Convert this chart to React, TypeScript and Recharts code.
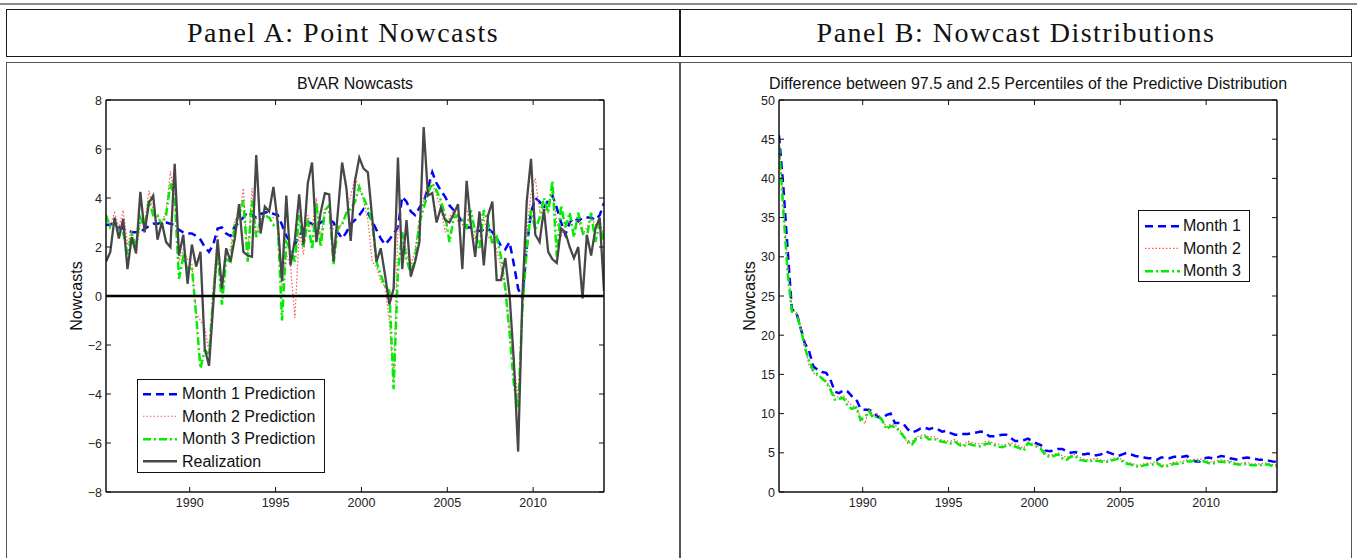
import { LineChart, Line, XAxis, YAxis, ReferenceLine, Legend } from 'recharts';

// quarterly sample, 1985Q1 .. 2014Q1
const quarters: string[] = [];
for (let y = 1985; y <= 2014; y++) {
  for (let q = 1; q <= 4; q++) {
    if (y === 2014 && q > 1) break;
    quarters.push(`${y}Q${q}`);
  }
}

const yearTicks = [1990, 1995, 2000, 2005, 2010];
const nowcastTicks = [-8, -6, -4, -2, 0, 2, 4, 6, 8];
const spreadTicks = [0, 5, 10, 15, 20, 25, 30, 35, 40, 45, 50];

// Panel A: point nowcasts
const realization = [
  1.4, 1.8, 3.2, 2.35, 3.15, 1.1, 2.4, 1.75, 4.25, 2.6,
  3.8, 4.1, 2.3, 3.0, 2.2, 2.0, 5.4, 1.65, 2.5, 0.5,
  2.1, 1.2, 1.8, -2.15, -2.85, -0.3, 2.3, 0.3, 1.95, 1.4,
  2.35, 3.75, 1.8, 1.65, 1.6, 5.75, 2.55, 3.65, 3.45, 4.45,
  3.0, 0.6, 4.1, 1.25, 2.3, 4.15, 2.1, 4.6, 5.45, 2.2,
  3.4, 4.2, 4.15, 1.4, 3.4, 5.45, 4.4, 2.25, 4.7, 5.65,
  5.2, 5.05, 3.2, 1.4, 1.95, 0.85, -0.35, 0.3, 5.65, 1.1,
  3.1, 0.8, 1.4, 2.2, 6.9, 4.1, 4.2, 3.0, 3.6, 3.1,
  3.0, 3.35, 3.75, 1.1, 4.7, 2.9, 1.6, 3.45, 1.25, 3.3,
  3.85, 0.65, 0.65, 1.55, 0.05, -2.65, -6.35, 0.0, 3.85, 5.6,
  2.5, 2.2, 3.55, 1.8, 1.5, 1.35, 2.75, 2.6, 2.0, 1.55,
  2.0, -0.1, 2.5, 1.65, 2.75, 3.2, 0.2,
];
const month1Point = [
  2.9, 2.92, 2.95, 2.8, 2.75, 2.7, 2.6, 2.6, 2.6, 2.75,
  2.85, 2.95, 2.95, 3.0, 3.0, 2.95, 2.9, 2.7, 2.6, 2.55,
  2.55, 2.45, 2.3, 2.0, 1.8, 2.1, 2.75, 2.8, 2.55, 2.45,
  2.85, 3.0, 3.2, 3.45, 3.3, 3.2, 3.35, 3.4, 3.45, 3.35,
  3.3, 2.9, 2.45, 2.2, 2.1, 2.45, 2.75, 3.0, 2.95, 2.85,
  3.0, 3.1, 3.1, 3.0, 2.6, 2.35, 2.6, 2.95, 3.1, 3.3,
  3.55, 3.4, 3.05, 2.7, 2.35, 2.1, 2.3, 2.55, 2.8, 4.05,
  3.85, 3.45, 3.3, 3.6, 3.85, 4.4, 5.05, 4.6, 4.3, 4.05,
  3.7, 3.5, 3.3, 3.0, 2.8, 2.8, 2.7, 2.65, 2.7, 2.75,
  2.6, 2.35, 2.05, 1.9, 2.2, 1.3, 0.3, -0.1, 2.0, 3.4,
  4.0, 3.85, 3.6, 3.9, 4.1, 3.6, 3.0, 2.5, 3.0, 3.2,
  3.05, 3.2, 3.2, 3.2, 3.1, 3.3, 3.8,
];
const month2Point = [
  3.2, 2.9, 3.4, 2.8, 3.5, 2.1, 2.7, 1.7, 3.0, 2.9,
  4.3, 3.5, 3.2, 3.0, 3.5, 5.1, 4.0, 1.4, 1.9, 1.5,
  1.3, -0.7, -1.0, -1.3, -2.3, 0.5, 2.5, 0.0, 1.8, 1.9,
  3.1, 3.2, 4.4, 1.6, 4.4, 2.5, 3.1, 3.3, 3.2, 3.2,
  3.1, 0.2, 1.7, 1.2, -0.9, 2.6, 1.7, 3.3, 2.8, 4.0,
  2.3, 3.6, 3.4, 2.7, 2.6, 3.0, 3.4, 4.1, 4.8, 4.4,
  3.9, 3.1, 1.4, 1.2, 0.6, 0.4, -1.0, -3.5, 2.8, 2.6,
  1.8, 1.2, 1.9, 3.1, 3.9, 4.7, 4.6, 4.1, 3.6, 2.6,
  3.2, 3.5, 3.0, 2.9, 3.6, 2.9, 2.3, 3.4, 3.2, 2.4,
  2.3, 1.9, 1.2, 0.5, -1.4, -2.8, -4.2, -0.3, 2.6, 4.2,
  4.8, 3.5, 3.6, 3.4, 4.4, 3.0, 2.4, 3.1, 3.0, 2.8,
  3.2, 2.5, 2.8, 3.2, 2.9, 3.1, 2.4,
];
const month3Point = [
  3.3, 2.8, 3.0, 2.7, 2.6, 1.7, 2.5, 2.1, 3.2, 2.8,
  3.9, 3.3, 3.3, 2.9, 3.3, 4.6, 4.0, 0.7, 1.6, 1.1,
  1.2, -0.8, -2.95, -2.2, -2.4, 0.1, 1.8, -0.35, 1.5, 1.4,
  2.9, 3.3, 3.9, 1.4, 3.9, 2.4, 3.1, 3.3, 3.2, 2.9,
  3.0, -1.0, 2.2, 1.9, 1.4, 3.3, 2.0, 3.1, 1.9, 3.8,
  2.0, 3.5, 3.7, 1.3, 2.8, 2.9, 3.4, 3.55, 3.85, 4.45,
  4.0, 3.6, 3.0, 1.4, 0.85, 0.4, 0.2, -3.8, 1.0, 2.6,
  1.5, 0.9, 1.5, 3.0, 3.6, 4.2, 4.6, 4.3, 3.9, 3.3,
  2.2, 3.2, 3.3, 3.1, 2.8, 3.5, 2.6, 1.9, 3.5, 3.0,
  2.1, 2.4, 1.6, 0.3, -1.5, -3.6, -4.6, -0.5, 1.9, 3.5,
  2.7, 3.2, 4.0, 3.4, 4.7, 1.6, 3.7, 2.8, 3.4, 2.4,
  3.4, 2.6, 2.4, 3.4, 2.2, 3.0, 2.2,
];

// Panel B: 97.5 - 2.5 percentile spread
const month1Spread = [
  45.5, 39, 31, 23.3, 23.0, 21.0, 19.0, 18.0, 16.0, 15.6,
  15.3, 15.2, 14.3, 12.8, 12.6, 13.0, 12.8, 12.2, 11.8, 10.6,
  10.5, 10.5, 10.2, 9.6, 9.3, 9.8, 10.0, 8.8, 8.8, 8.7,
  8.0, 7.6, 7.8, 8.1, 8.2, 8.0, 8.2, 8.0, 7.7, 7.8,
  7.5, 7.3, 7.3, 7.4, 7.4, 7.5, 7.6, 7.7, 7.6, 7.1,
  7.1, 7.2, 7.3, 7.3, 6.9, 6.5, 6.5, 6.6, 6.8, 6.5,
  6.2, 6.0, 5.3, 5.2, 5.3, 5.5, 5.5, 5.2, 5.0, 5.1,
  4.9, 4.8, 4.9, 4.7, 4.7, 4.8, 5.2, 5.0, 4.8, 4.6,
  4.8, 5.0, 4.8, 4.6, 4.5, 4.4, 4.3, 4.3, 4.1, 4.4,
  4.4, 4.3, 4.5, 4.5, 4.5, 4.6, 4.2, 3.9, 3.9, 4.3,
  4.4, 4.3, 4.4, 4.6, 4.5, 4.3, 4.2, 4.1, 4.3, 4.4,
  4.3, 4.2, 4.1, 4.1, 4.0, 3.9, 3.85,
];
const month2Spread = [
  44.8, 37, 29, 23.2, 22.9, 21.2, 18.8, 16.2, 15.2, 14.8,
  14.6, 14.2, 13.3, 12.2, 12.1, 12.3, 11.6, 11.0, 10.9, 9.6,
  8.7, 10.6, 9.8, 10.0, 9.3, 8.3, 8.7, 8.6, 8.0, 7.3,
  6.1, 6.5, 7.0, 7.2, 7.3, 7.0, 7.1, 6.8, 6.6, 6.5,
  6.5, 6.7, 6.3, 6.0, 6.5, 6.3, 6.2, 6.1, 6.4, 6.5,
  6.2, 6.1, 6.0, 6.1, 6.3, 6.1, 5.9, 5.6, 6.4, 6.2,
  6.0, 5.7, 5.0, 4.7, 4.8, 5.0, 4.6, 4.4, 4.7, 4.8,
  4.4, 4.2, 4.1, 4.2, 4.3, 4.1, 4.0, 4.1, 4.3, 4.4,
  4.1, 3.8, 3.7, 3.5, 3.4, 3.6, 3.7, 3.7, 3.9, 3.5,
  3.4, 3.6, 3.8, 3.8, 3.9, 4.1, 4.1, 4.2, 4.2, 4.1,
  3.9, 3.8, 4.0, 4.1, 4.0, 4.0, 3.8, 3.7, 3.7, 3.8,
  3.6, 3.6, 3.6, 3.7, 3.7, 3.5, 3.5,
];
const month3Spread = [
  44.2, 36, 28, 23.0, 22.8, 21.0, 18.5, 16.7, 15.5, 15.0,
  14.5, 14.0, 13.0, 11.8, 11.9, 12.0, 11.0, 10.6, 10.8, 9.2,
  9.6, 10.3, 9.4, 9.7, 9.2, 8.0, 8.4, 8.3, 7.8, 7.1,
  6.5, 6.1, 6.8, 6.9, 7.1, 6.7, 6.8, 6.6, 6.4, 6.3,
  6.2, 6.4, 6.0, 5.8, 6.2, 6.0, 5.9, 5.8, 6.1, 6.2,
  6.0, 5.8, 5.7, 5.9, 6.0, 5.8, 5.6, 5.3, 6.2, 6.0,
  5.8, 5.5, 4.7, 4.5, 4.6, 4.8, 4.3, 4.1, 4.5, 4.6,
  4.1, 4.0, 3.9, 4.0, 4.0, 3.9, 3.8, 3.9, 4.1, 4.2,
  3.9, 3.6, 3.5, 3.3, 3.2, 3.4, 3.5, 3.5, 3.7, 3.3,
  3.2, 3.4, 3.6, 3.6, 3.7, 3.9, 3.9, 4.0, 4.0, 3.9,
  3.7, 3.6, 3.8, 3.9, 3.8, 3.8, 3.6, 3.5, 3.5, 3.6,
  3.4, 3.4, 3.4, 3.5, 3.5, 3.3, 3.3,
];

// quarter label -> mid-quarter decimal year
const toYear = (q: string) => Number(q.slice(0, 4)) + (Number(q.slice(5)) - 0.5) / 4;

const pointData = quarters.map((q, i) => ({
  t: toYear(q),
  m1: month1Point[i],
  m2: month2Point[i],
  m3: month3Point[i],
  real: realization[i],
}));
const spreadData = quarters.map((q, i) => ({
  t: toYear(q),
  m1: month1Spread[i],
  m2: month2Spread[i],
  m3: month3Spread[i],
}));

const FONT = '"Liberation Sans", Arial, Helvetica, sans-serif';
const SERIF = '"Liberation Serif", "Times New Roman", serif';
const X_DOMAIN = [1985.125, 2014.125];

type Series = { key: string; name: string; color: string; width: number; dash?: string };

const pointSeries: Series[] = [
  { key: 'm1', name: 'Month 1 Prediction', color: '#0000ff', width: 2.5, dash: '8 5' },
  { key: 'm2', name: 'Month 2 Prediction', color: '#ff5555', width: 1.2, dash: '1.5 2' },
  { key: 'm3', name: 'Month 3 Prediction', color: '#00ee00', width: 2.5, dash: '8 3 2 3' },
  { key: 'real', name: 'Realization', color: '#474747', width: 2.3 },
];
const spreadSeries: Series[] = [
  { key: 'm1', name: 'Month 1', color: '#0000ff', width: 2.5, dash: '8 5' },
  { key: 'm2', name: 'Month 2', color: '#ff5555', width: 1.2, dash: '1.5 2' },
  { key: 'm3', name: 'Month 3', color: '#00ee00', width: 2.5, dash: '8 3 2 3' },
];

const fmt = (v: number) => (v < 0 ? `\u2212${-v}` : `${v}`);

function BottomTick({ x, y, payload }: any) {
  return (
    <g>
      <line x1={x} y1={y} x2={x} y2={y - 5} stroke="#111" />
      <text x={x} y={y + 15} textAnchor="middle" fontSize={12.5} fontFamily={FONT} fill="#222">
        {payload.value}
      </text>
    </g>
  );
}
function TopTick({ x, y }: any) {
  return <line x1={x} y1={y} x2={x} y2={y + 5} stroke="#111" />;
}
function LeftTick({ x, y, payload }: any) {
  return (
    <g>
      <line x1={x} y1={y} x2={x + 5} y2={y} stroke="#111" />
      <text x={x - 4} y={y + 4.5} textAnchor="end" fontSize={12.5} fontFamily={FONT} fill="#222">
        {fmt(payload.value)}
      </text>
    </g>
  );
}
function RightTick({ x, y }: any) {
  return <line x1={x} y1={y} x2={x - 5} y2={y} stroke="#111" />;
}

function legendContent(series: Series[], w: number, h: number, row: number, padTop: number, x0: number, x1: number) {
  return ({ payload }: any) => {
    const items: any[] = payload && payload.length ? payload : series.map((s) => ({ dataKey: s.key }));
    return (
      <div
        style={{
          width: w,
          height: h,
          boxSizing: 'border-box',
          border: '1.2px solid #111',
          background: '#fff',
          paddingTop: padTop,
          fontFamily: FONT,
          fontSize: 16,
          color: '#111',
        }}
      >
        {items.map((it) => {
          const s = series.find((d) => d.key === it.dataKey)!;
          return (
            <div key={s.key} style={{ height: row, display: 'flex', alignItems: 'center', whiteSpace: 'nowrap' }}>
              <svg width={44} height={row} style={{ flex: 'none' }}>
                <line x1={x0} x2={x1} y1={row / 2} y2={row / 2} stroke={s.color} strokeWidth={s.width} strokeDasharray={s.dash} />
              </svg>
              <span>{s.name}</span>
            </div>
          );
        })}
      </div>
    );
  };
}

const axisLine = { stroke: '#111', strokeWidth: 1.5 };

function PointPanel() {
  return (
    <LineChart width={680} height={496} data={pointData} margin={{ top: 33, right: 71, bottom: 36, left: 46 }}>
      <XAxis
        xAxisId="b"
        dataKey="t"
        type="number"
        domain={X_DOMAIN}
        ticks={yearTicks}
        interval={0}
        height={30}
        tickSize={0}
        tickMargin={0}
        tickLine={false}
        axisLine={axisLine}
        tick={<BottomTick />}
        allowDataOverflow
      />
      <XAxis
        xAxisId="t"
        dataKey="t"
        type="number"
        orientation="top"
        domain={X_DOMAIN}
        ticks={yearTicks}
        interval={0}
        height={5}
        tickSize={0}
        tickMargin={0}
        tickLine={false}
        axisLine={axisLine}
        tick={<TopTick />}
        allowDataOverflow
        label={{ value: 'BVAR Nowcasts', position: 'top', offset: 6, fontSize: 16, fontFamily: FONT, fill: '#111' }}
      />
      <YAxis
        yAxisId="l"
        domain={[-8, 8]}
        ticks={nowcastTicks}
        interval={0}
        width={60}
        tickSize={0}
        tickMargin={0}
        tickLine={false}
        axisLine={axisLine}
        tick={<LeftTick />}
        allowDataOverflow
        label={{ value: 'Nowcasts', angle: -90, position: 'center', fontSize: 16, fontFamily: FONT, fill: '#111' }}
      />
      <YAxis
        yAxisId="r"
        orientation="right"
        domain={[-8, 8]}
        ticks={nowcastTicks}
        interval={0}
        width={5}
        tickSize={0}
        tickMargin={0}
        tickLine={false}
        axisLine={axisLine}
        tick={<RightTick />}
        allowDataOverflow
      />
      {pointSeries.map((s) => (
        <Line
          key={s.key}
          xAxisId="b"
          yAxisId="l"
          type="linear"
          dataKey={s.key}
          name={s.name}
          stroke={s.color}
          strokeWidth={s.width}
          strokeDasharray={s.dash}
          dot={false}
          activeDot={false}
          isAnimationActive={false}
        />
      ))}
      <ReferenceLine xAxisId="b" yAxisId="l" y={0} stroke="#000" strokeWidth={2.4} />
      <Legend
        layout="vertical"
        align="center"
        verticalAlign="middle"
        wrapperStyle={{ left: 137, top: 317, width: 188, height: 94 }}
        content={legendContent(pointSeries, 188, 94, 22.5, 2.75, 5, 39)}
      />
    </LineChart>
  );
}

function SpreadPanel() {
  return (
    <LineChart width={677} height={496} data={spreadData} margin={{ top: 33, right: 75, bottom: 36, left: 39 }}>
      <XAxis
        xAxisId="b"
        dataKey="t"
        type="number"
        domain={X_DOMAIN}
        ticks={yearTicks}
        interval={0}
        height={30}
        tickSize={0}
        tickMargin={0}
        tickLine={false}
        axisLine={axisLine}
        tick={<BottomTick />}
        allowDataOverflow
      />
      <XAxis
        xAxisId="t"
        dataKey="t"
        type="number"
        orientation="top"
        domain={X_DOMAIN}
        ticks={yearTicks}
        interval={0}
        height={5}
        tickSize={0}
        tickMargin={0}
        tickLine={false}
        axisLine={axisLine}
        tick={<TopTick />}
        allowDataOverflow
        label={{
          value: 'Difference between 97.5 and 2.5 Percentiles of the Predictive Distribution',
          position: 'top',
          offset: 6,
          fontSize: 16,
          fontFamily: FONT,
          fill: '#111',
        }}
      />
      <YAxis
        yAxisId="l"
        domain={[0, 50]}
        ticks={spreadTicks}
        interval={0}
        width={60}
        tickSize={0}
        tickMargin={0}
        tickLine={false}
        axisLine={axisLine}
        tick={<LeftTick />}
        allowDataOverflow
        label={{ value: 'Nowcasts', angle: -90, position: 'center', fontSize: 16, fontFamily: FONT, fill: '#111' }}
      />
      <YAxis
        yAxisId="r"
        orientation="right"
        domain={[0, 50]}
        ticks={spreadTicks}
        interval={0}
        width={5}
        tickSize={0}
        tickMargin={0}
        tickLine={false}
        axisLine={axisLine}
        tick={<RightTick />}
        allowDataOverflow
      />
      {spreadSeries.map((s) => (
        <Line
          key={s.key}
          xAxisId="b"
          yAxisId="l"
          type="linear"
          dataKey={s.key}
          name={s.name}
          stroke={s.color}
          strokeWidth={s.width}
          strokeDasharray={s.dash}
          dot={false}
          activeDot={false}
          isAnimationActive={false}
        />
      ))}
      <Legend
        layout="vertical"
        align="center"
        verticalAlign="middle"
        wrapperStyle={{ left: 458, top: 148, width: 112, height: 72 }}
        content={legendContent(spreadSeries, 112, 72, 22.7, 3.6, 6, 41)}
      />
    </LineChart>
  );
}

export default function App() {
  const headerCell = {
    position: 'absolute' as const,
    top: 9,
    height: 48,
    display: 'flex',
    alignItems: 'center',
    justifyContent: 'center',
    fontFamily: SERIF,
    fontSize: 28,
    letterSpacing: 1.5,
    color: '#111',
  };
  return (
    <div style={{ position: 'absolute', left: 0, top: 0, width: 1357, height: 558, overflow: 'hidden', background: '#fff' }}>
      {/* table rules */}
      <div style={{ position: 'absolute', left: 0, top: 3, width: 1357, height: 1.5, background: '#8c8c8c' }} />
      <div style={{ position: 'absolute', left: 6, top: 9, width: 1346, height: 48, boxSizing: 'border-box', border: '1.5px solid #1a1a1a' }} />
      <div style={{ position: 'absolute', left: 679, top: 9, width: 1.5, height: 48, background: '#1a1a1a' }} />
      <div style={{ position: 'absolute', left: 6, top: 62, width: 1346, height: 520, boxSizing: 'border-box', border: '1.5px solid #555' }} />
      <div style={{ position: 'absolute', left: 679, top: 62, width: 1.5, height: 500, background: '#555' }} />
      <div style={{ ...headerCell, left: 6, width: 674 }}>Panel A: Point Nowcasts</div>
      <div style={{ ...headerCell, left: 680, width: 672 }}>Panel B: Nowcast Distributions</div>

      <div style={{ position: 'absolute', left: 0, top: 62 }}>
        <PointPanel />
      </div>
      <div style={{ position: 'absolute', left: 680, top: 62 }}>
        <SpreadPanel />
      </div>
    </div>
  );
}
